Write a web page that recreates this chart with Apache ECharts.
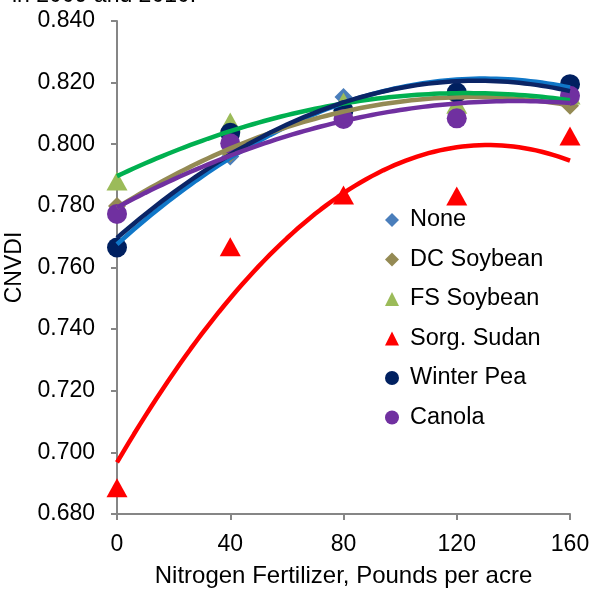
<!DOCTYPE html>
<html>
<head>
<meta charset="utf-8">
<script src="https://cdn.jsdelivr.net/npm/echarts@6/dist/echarts.min.js"></script>
<style>
  html, body { margin: 0; padding: 0; background: #fff; }
  #chart { width: 592px; height: 589px; }
</style>
</head>
<body>
<div id="chart"></div>
<script>
// Nitrogen rate (lb/acre) and CNVDI readings per cover-crop treatment
const nitrogenRates = [0, 40, 80, 120, 160];
const none        = [0.767, 0.796, 0.8153, 0.818, 0.8196];
const dcSoybean   = [0.780, 0.797, 0.812, 0.815, 0.8125];
const fsSoybean   = [0.7881, 0.8072, 0.8137, 0.813, 0.816];
const sorgSudan   = [0.6885, 0.7667, 0.7835, 0.7832, 0.8027];
const winterPea   = [0.7665, 0.8037, 0.811, 0.8168, 0.8195];
const canola      = [0.7774, 0.8003, 0.8082, 0.8084, 0.8157];
const yTicks = ['0.680','0.700','0.720','0.740','0.760','0.780','0.800','0.820','0.840'];

const treatments = [
  { name: 'None',        values: none,      symbol: 'diamond',  size: 18,       marker: '#4a7ebb', line: '#1077c8' },
  { name: 'DC Soybean',  values: dcSoybean, symbol: 'diamond',  size: 18,       marker: '#948a54', line: '#948a54' },
  { name: 'FS Soybean',  values: fsSoybean, symbol: 'triangle', size: [21, 19], marker: '#9bbb59', line: '#00b050' },
  { name: 'Sorg. Sudan', values: sorgSudan, symbol: 'triangle', size: [21, 19], marker: '#ff0000', line: '#ff0000' },
  { name: 'Winter Pea',  values: winterPea, symbol: 'circle',   size: 20,       marker: '#002060', line: '#0b2566' },
  { name: 'Canola',      values: canola,    symbol: 'circle',   size: 20,       marker: '#7030a0', line: '#7030a0' }
];

// Second-order polynomial trendline (least squares) through a series
function quadFit(xs, ys) {
  let s = [0, 0, 0, 0, 0], t = [0, 0, 0];
  xs.forEach((x, i) => {
    for (let k = 0; k <= 4; k++) s[k] += Math.pow(x, k);
    for (let k = 0; k <= 2; k++) t[k] += Math.pow(x, k) * ys[i];
  });
  const A = [[s[0], s[1], s[2], t[0]], [s[1], s[2], s[3], t[1]], [s[2], s[3], s[4], t[2]]];
  for (let c = 0; c < 3; c++) {
    for (let r = c + 1; r < 3; r++) {
      const f = A[r][c] / A[c][c];
      for (let k = c; k < 4; k++) A[r][k] -= f * A[c][k];
    }
  }
  const b = [0, 0, 0];
  for (let r = 2; r >= 0; r--) {
    let v = A[r][3];
    for (let k = r + 1; k < 3; k++) v -= A[r][k] * b[k];
    b[r] = v / A[r][r];
  }
  return x => b[0] + b[1] * x + b[2] * x * x;
}

function trendPoints(values) {
  const f = quadFit(nitrogenRates, values);
  const pts = [];
  for (let x = 0; x <= 160; x += 2) pts.push([x, f(x)]);
  return pts;
}

const font = '"Liberation Sans", Arial, sans-serif';
const series = [];
treatments.forEach((t, i) => {
  series.push({
    name: t.name,
    type: 'scatter',
    data: nitrogenRates.map((x, j) => [x, t.values[j]]),
    symbol: t.symbol,
    symbolSize: t.size,
    itemStyle: { color: t.marker, opacity: 1 },
    z: 2 + i * 0.01
  });
});
treatments.forEach((t, i) => {
  series.push({
    name: t.name + ' trend',
    type: 'line',
    data: trendPoints(t.values),
    showSymbol: false,
    symbol: 'none',
    smooth: false,
    lineStyle: { color: t.line, width: 4.5 },
    itemStyle: { color: t.line },
    silent: true,
    z: 3 + i * 0.01
  });
});

const chart = echarts.init(document.getElementById('chart'), null, { renderer: 'canvas' });
chart.setOption({
  animation: false,
  backgroundColor: '#fff',
  textStyle: { fontFamily: font },
  grid: { left: 117, right: 22, top: 21, bottom: 75, containLabel: false, outerBoundsMode: 'none' },
  graphic: [{
    type: 'text',
    left: 12,
    top: -16,
    style: { text: 'in 2009 and 2010.', font: '23px ' + font, fill: '#000' }
  }],
  legend: {
    orient: 'vertical',
    left: 380,
    top: 203,
    itemWidth: 14,
    itemHeight: 14,
    itemGap: 15.5,
    textStyle: { fontSize: 23.5, color: '#000', fontFamily: font, padding: [0, 0, 0, 6] },
    data: treatments.map(t => ({ name: t.name, icon: t.symbol }))
  },
  xAxis: {
    type: 'value',
    min: 0, max: 160, interval: 40,
    name: 'Nitrogen Fertilizer, Pounds per acre',
    nameLocation: 'middle',
    nameGap: 50,
    nameTextStyle: { fontSize: 24, color: '#000', fontFamily: font },
    axisLine: { lineStyle: { color: '#868686', width: 2 } },
    axisTick: { show: true, length: 6, lineStyle: { color: '#868686', width: 2 } },
    axisLabel: { fontSize: 23, color: '#000', margin: 19, fontFamily: font },
    splitLine: { show: false }
  },
  yAxis: {
    type: 'value',
    min: 0.68, max: 0.84, interval: 0.02,
    name: 'CNVDI',
    nameLocation: 'middle',
    nameGap: 91,
    nameRotate: 90,
    nameTextStyle: { fontSize: 23, color: '#000', fontFamily: font },
    axisLine: { show: true, lineStyle: { color: '#868686', width: 2 } },
    axisTick: { show: true, length: 6, lineStyle: { color: '#868686', width: 2 } },
    axisLabel: {
      fontSize: 23, color: '#000', margin: 22, fontFamily: font,
      formatter: v => yTicks.find(s => Math.abs(parseFloat(s) - v) < 1e-6) || v.toFixed(3)
    },
    splitLine: { show: false }
  },
  series: series
});
</script>
</body>
</html>
